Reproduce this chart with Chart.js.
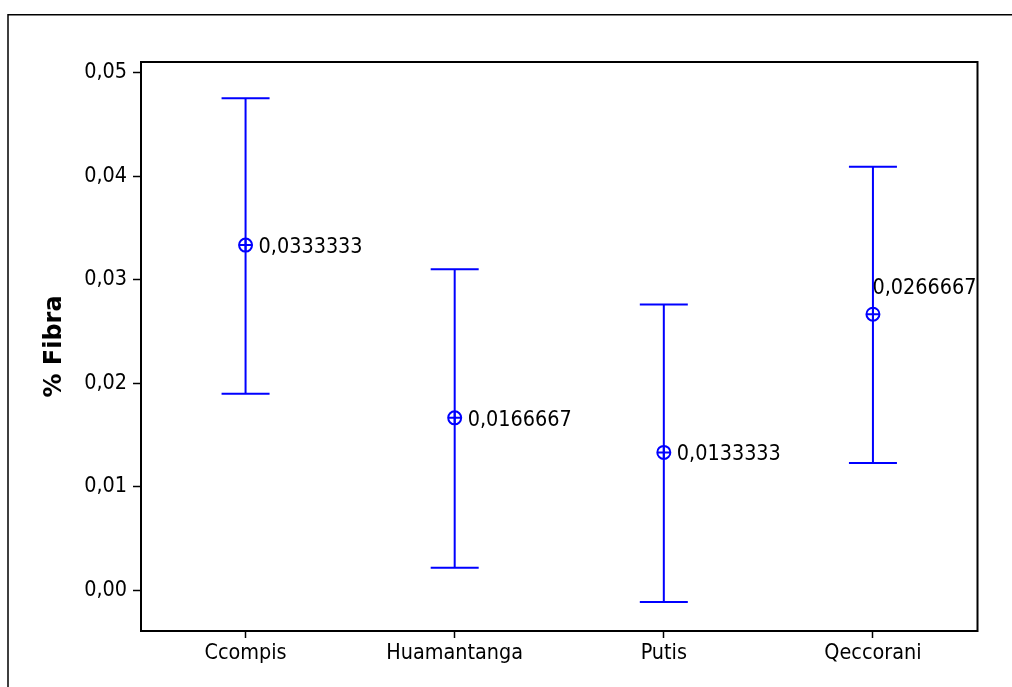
<!DOCTYPE html>
<html>
<head>
<meta charset="utf-8">
<script src="https://cdn.jsdelivr.net/npm/chart.js@4/dist/chart.umd.min.js"></script>
<style>
  html, body { margin: 0; padding: 0; background: #ffffff; }
  #wrap { width: 1012px; height: 687px; position: relative; }
</style>
</head>
<body>
<div id="wrap"><canvas id="chart" width="1012" height="687"></canvas></div>
<script>
// Interval plot of % Fibra by locality: mean with its interval
const categories = ['Ccompis', 'Huamantanga', 'Putis', 'Qeccorani'];
const means = [0.0333333, 0.0166667, 0.0133333, 0.0266667];
const lowerBounds = [0.0190, 0.0022, -0.0011, 0.0123];
const upperBounds = [0.0475, 0.0310, 0.0276, 0.0409];
const yTickValues = [0.00, 0.01, 0.02, 0.03, 0.04, 0.05];
const yTitle = '% Fibra';

const BLUE = '#0000ff';
const TEXT_FONT = '"DejaVu Sans Condensed", "Liberation Sans", sans-serif';
const TEXT_SIZE = 21.4;

const fmtComma = (v, digits) => v.toFixed(digits).replace('.', ',');

// Outer frame of the graph region and the frame of the data region
const framePlugin = {
  id: 'frames',
  beforeDraw(chart) {
    const ctx = chart.ctx;
    ctx.save();
    ctx.strokeStyle = '#000';
    ctx.lineWidth = 1.5;
    ctx.beginPath();
    ctx.moveTo(8, 687);
    ctx.lineTo(8, 14.75);
    ctx.lineTo(1012, 14.75);
    ctx.stroke();
    ctx.restore();
  },
  afterDraw(chart) {
    const { ctx, chartArea: a } = chart;
    ctx.save();
    ctx.strokeStyle = '#000';
    ctx.lineWidth = 2;
    ctx.strokeRect(a.left, a.top, a.right - a.left, a.bottom - a.top);
    ctx.restore();
  }
};

// Interval whiskers with caps, drawn under the mean symbols
const intervalPlugin = {
  id: 'intervals',
  beforeDatasetsDraw(chart) {
    const { ctx, scales: { x, y } } = chart;
    const capHalf = 24;
    ctx.save();
    ctx.strokeStyle = BLUE;
    ctx.lineWidth = 2;
    categories.forEach((c, i) => {
      const px = x.getPixelForValue(i);
      const yTop = y.getPixelForValue(upperBounds[i]);
      const yBot = y.getPixelForValue(lowerBounds[i]);
      ctx.beginPath();
      ctx.moveTo(px, yTop); ctx.lineTo(px, yBot);
      ctx.moveTo(px - capHalf, yTop); ctx.lineTo(px + capHalf, yTop);
      ctx.moveTo(px - capHalf, yBot); ctx.lineTo(px + capHalf, yBot);
      ctx.stroke();
    });
    ctx.restore();
  }
};

// Mean value labels beside each symbol; a label that would run past the
// data region is lifted above its symbol and kept inside the frame
const meanLabelPlugin = {
  id: 'meanLabels',
  afterDatasetsDraw(chart) {
    const { ctx, chartArea: a, scales: { x, y } } = chart;
    ctx.save();
    ctx.font = TEXT_SIZE + 'px ' + TEXT_FONT;
    ctx.fillStyle = '#000';
    ctx.textAlign = 'left';
    ctx.textBaseline = 'alphabetic';
    means.forEach((m, i) => {
      const txt = fmtComma(m, 7);
      const w = ctx.measureText(txt).width;
      const px = x.getPixelForValue(i);
      const py = y.getPixelForValue(m);
      let tx = px + 13;
      let ty = py + 8;
      if (tx + w > a.right - 1) {
        tx = a.right - 1 - w;
        ty = py - 20;
      }
      ctx.fillText(txt, tx, ty);
    });
    ctx.restore();
  }
};

new Chart(document.getElementById('chart'), {
  type: 'line',
  data: {
    labels: categories,
    datasets: [
      {
        data: means,
        showLine: false,
        pointStyle: 'circle',
        pointRadius: 6.5,
        pointHoverRadius: 6.5,
        pointBorderWidth: 2,
        borderColor: BLUE,
        pointBorderColor: BLUE,
        pointBackgroundColor: 'rgba(0,0,0,0)'
      },
      {
        data: means,
        showLine: false,
        pointStyle: 'cross',
        pointRadius: 6.5,
        pointHoverRadius: 6.5,
        pointBorderWidth: 2,
        borderColor: BLUE,
        pointBorderColor: BLUE
      }
    ]
  },
  options: {
    responsive: false,
    animation: false,
    events: [],
    layout: { padding: { top: 62, right: 34.5, left: 0, bottom: 0 } },
    plugins: {
      legend: { display: false },
      tooltip: { enabled: false }
    },
    scales: {
      x: {
        type: 'category',
        offset: true,
        border: { display: false },
        grid: {
          offset: false,
          drawOnChartArea: false,
          drawTicks: true,
          tickLength: 7,
          tickWidth: 1.5,
          tickColor: '#000'
        },
        ticks: {
          color: '#000',
          padding: 3,
          maxRotation: 0,
          autoSkip: false,
          font: { family: TEXT_FONT, size: TEXT_SIZE }
        },
        afterFit(scale) { scale.height = 56; }
      },
      y: {
        type: 'linear',
        min: -0.0039,
        max: 0.051,
        border: { display: false },
        afterBuildTicks(scale) {
          scale.ticks = yTickValues.map(v => ({ value: v }));
        },
        grid: {
          drawOnChartArea: false,
          drawTicks: true,
          tickLength: 8,
          tickWidth: 1.5,
          tickColor: '#000'
        },
        ticks: {
          color: '#000',
          padding: 6,
          font: { family: TEXT_FONT, size: TEXT_SIZE },
          callback: v => fmtComma(v, 2)
        },
        title: {
          display: true,
          text: yTitle,
          color: '#000',
          padding: { top: 40, bottom: 0 },
          font: { family: '"DejaVu Sans", sans-serif', size: 24, weight: 'bold' }
        },
        afterFit(scale) { scale.width = 141; }
      }
    }
  },
  plugins: [framePlugin, intervalPlugin, meanLabelPlugin]
});
</script>
</body>
</html>
